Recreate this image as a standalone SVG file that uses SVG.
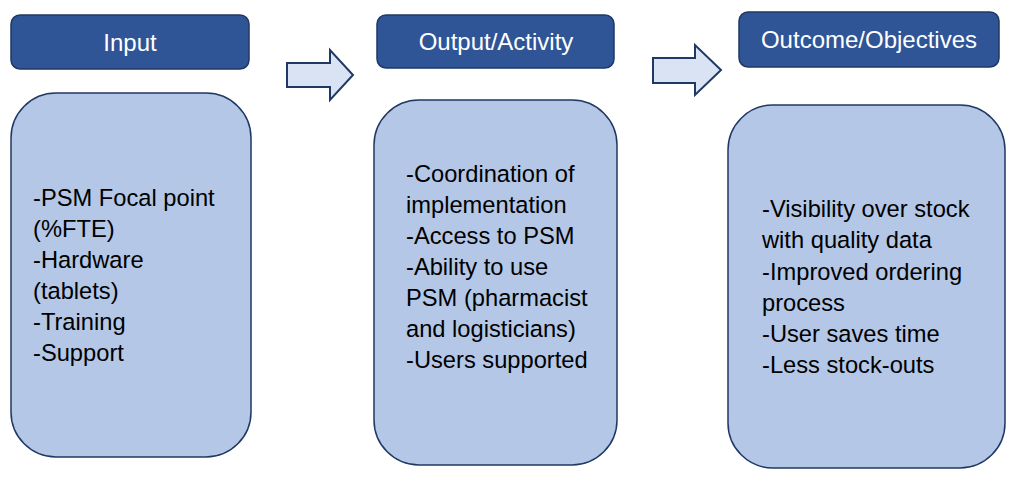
<svg xmlns="http://www.w3.org/2000/svg" width="1016" height="481" viewBox="0 0 1016 481">
<style>
.hdr{fill:#2F5597;stroke:#1F3864;stroke-width:1.5}
.body{fill:#B4C7E7;stroke:#1F3864;stroke-width:1.5}
.arr{fill:#DAE3F3;stroke:#1F3864;stroke-width:2}
.ht{font-family:"Liberation Sans",Arial,sans-serif;font-size:24px;fill:#FFFFFF;text-anchor:middle}
.bt{font-family:"Liberation Sans",Arial,sans-serif;font-size:23.7px;fill:#000000}
</style>
<rect width="1016" height="481" fill="#FFFFFF"/>
<g id="connectors">
<path class="arr" d="M287,63 H330 V50 L353,75 L330,100 V87 H287 Z"/>
<path class="arr" d="M653,58 H695 V45 L721,70 L695,95 V83 H653 Z"/>
</g>
<g id="input-header">
<rect class="hdr" x="11" y="15" width="238" height="54" rx="9"/>
<text class="ht" x="130" y="51">Input</text>
</g>
<g id="input-body">
<rect class="body" x="11" y="93" width="240" height="364" rx="45"/>
<text class="bt" x="33" y="206">-PSM Focal point</text>
<text class="bt" x="33" y="237">(%FTE)</text>
<text class="bt" x="33" y="268">-Hardware</text>
<text class="bt" x="33" y="299">(tablets)</text>
<text class="bt" x="33" y="330">-Training</text>
<text class="bt" x="33" y="361">-Support</text>
</g>
<g id="output-header">
<rect class="hdr" x="377" y="15" width="237" height="53" rx="9"/>
<text class="ht" x="496" y="50">Output/Activity</text>
</g>
<g id="output-body">
<rect class="body" x="374" y="100" width="243" height="365" rx="45"/>
<text class="bt" x="406" y="182">-Coordination of</text>
<text class="bt" x="406" y="213">implementation</text>
<text class="bt" x="406" y="244">-Access to PSM</text>
<text class="bt" x="406" y="275">-Ability to use</text>
<text class="bt" x="406" y="306">PSM (pharmacist</text>
<text class="bt" x="406" y="337">and logisticians)</text>
<text class="bt" x="406" y="368">-Users supported</text>
</g>
<g id="outcome-header">
<rect class="hdr" x="739" y="12" width="260" height="55" rx="9"/>
<text class="ht" x="869" y="48">Outcome/Objectives</text>
</g>
<g id="outcome-body">
<rect class="body" x="728" y="105" width="277" height="363" rx="45"/>
<text class="bt" x="762" y="217">-Visibility over stock</text>
<text class="bt" x="762" y="248">with quality data</text>
<text class="bt" x="762" y="280">-Improved ordering</text>
<text class="bt" x="762" y="311">process</text>
<text class="bt" x="762" y="342">-User saves time</text>
<text class="bt" x="762" y="373">-Less stock-outs</text>
</g>
</svg>
